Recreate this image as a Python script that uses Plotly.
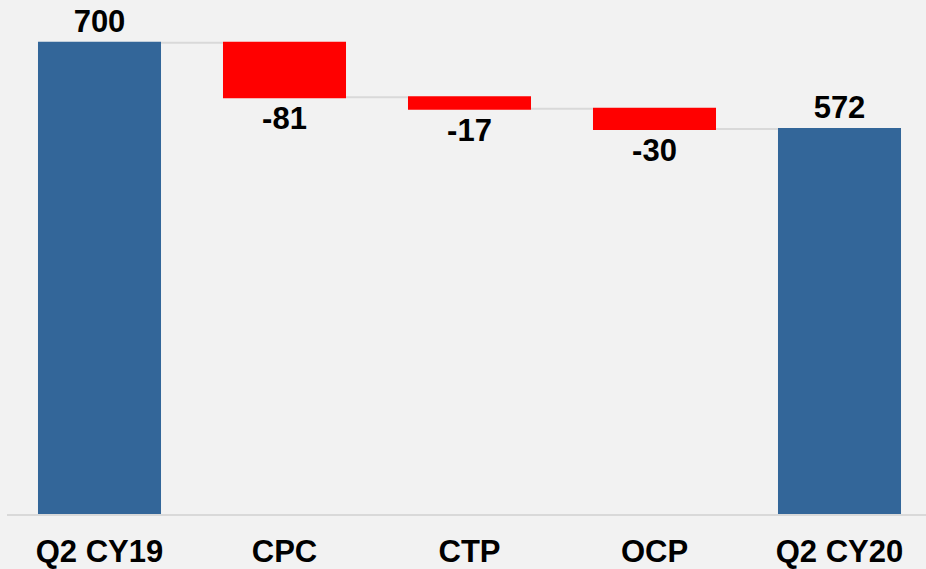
import plotly.graph_objects as go

categories = ["Q2 CY19", "CPC", "CTP", "OCP", "Q2 CY20"]
measures = ["absolute", "relative", "relative", "relative", "total"]
values = [700, -81, -17, -30, 572]
labels = ["700", "-81", "-17", "-30", "572"]

BLUE = "#336699"
RED = "#ff0000"
BG = "#f2f2f2"

fig = go.Figure(go.Waterfall(
    x=categories,
    measure=measures,
    y=[v if m != "total" else None for v, m in zip(values, measures)],
    text=labels,
    textposition="outside",
    textfont=dict(family="Liberation Sans", size=31, color="black", weight="bold"),
    totals=dict(marker=dict(color=BLUE, line=dict(color=BLUE, width=0))),
    increasing=dict(marker=dict(color=BLUE, line=dict(color=BLUE, width=0))),
    decreasing=dict(marker=dict(color=RED, line=dict(color=RED, width=0))),
    connector=dict(line=dict(color="#d9d9d9", width=2)),
    cliponaxis=False,
))

fig.update_layout(
    width=926, height=569,
    margin=dict(l=7, r=0, t=0, b=52),
    paper_bgcolor=BG, plot_bgcolor=BG,
    waterfallgap=0.335,
    showlegend=False,
    xaxis=dict(
        range=[-0.5, -0.5 + 919 / 185],
        showline=True, linecolor="#d9d9d9", linewidth=2,
        showgrid=False, ticks="", ticklabelstandoff=9,
        tickfont=dict(family="Liberation Sans", size=31, color="black", weight="bold"),
    ),
    yaxis=dict(range=[0, 763.6], visible=False, showgrid=False, zeroline=False),
)

fig.write_html("out.html", config={"displayModeBar": False},
               post_script="document.body.style.margin='0';")
